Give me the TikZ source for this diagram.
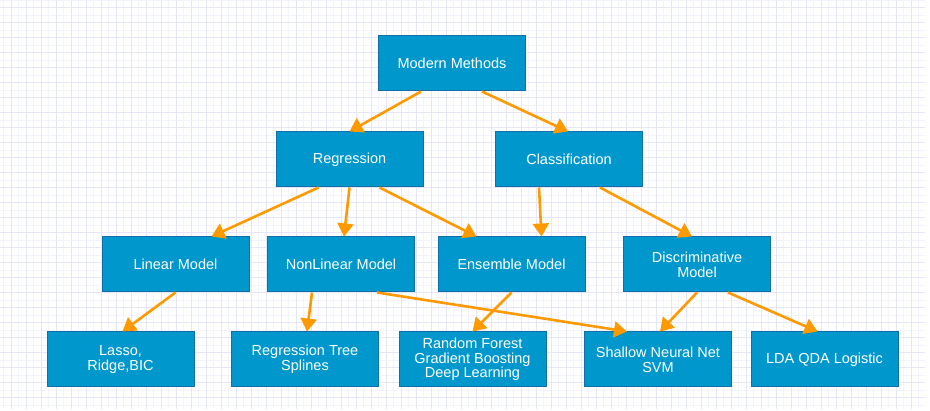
\documentclass[tikz,border=0pt]{standalone}
\usepackage{fontspec}
\setsansfont{Liberation Sans}
\usepackage{xcolor}
\usetikzlibrary{arrows.meta}
\definecolor{boxfill}{RGB}{0,152,204}
\definecolor{boxline}{RGB}{16,110,170}
\definecolor{linkorange}{RGB}{255,153,0}
\definecolor{gridminor}{RGB}{243,243,252}
\definecolor{gridmajor}{RGB}{230,230,249}

\begin{document}
\begin{tikzpicture}[x=1pt,y=-1pt,
  box/.style={draw=boxline,fill=boxfill,line width=1pt,minimum width=147pt,minimum height=55pt,inner sep=2pt,align=center,text=white,font=\sffamily\fontsize{14.5}{14.7}\selectfont},
  link/.style={draw=linkorange,line width=2.6pt,-{Triangle[length=13pt,width=16pt]}}]
\useasboundingbox (0,0) rectangle (930,411);
\fill[white] (0,0) rectangle (930,411);
\begin{scope}
\clip (0,0) rectangle (925,409);
\foreach \gx in {3.5,18.5,...,925} \draw[gridminor,line width=0.8pt] (\gx,0) -- (\gx,411);
\foreach \gy in {0,15,...,411} \draw[gridminor,line width=0.8pt] (0,\gy) -- (930,\gy);
\foreach \gx in {11,26,...,925} \draw[gridmajor,line width=0.9pt] (\gx,0) -- (\gx,411);
\foreach \gy in {7.5,22.5,...,411} \draw[gridmajor,line width=0.9pt] (0,\gy) -- (930,\gy);
\end{scope}

\node[box] (mm) at (452,63.5) {Modern Methods};
\node[box] (reg) at (349.5,159.5) {Regression};
\node[box] (cls) at (569,159.5) {Classification};
\node[box] (lin) at (175.5,264.5) {Linear Model};
\node[box] (nonlin) at (341,264.5) {NonLinear Model};
\node[box] (ens) at (511.5,264.5) {Ensemble Model};
\node[box] (disc) at (697,264.5) {Discriminative\\Model};
\node[box] (lasso) at (120.5,359.5) {Lasso,\\Ridge,BIC};
\node[box] (tree) at (305,359.5) {Regression Tree\\Splines};
\node[box] (rf) at (472.5,359.5) {Random Forest\\Gradient Boosting\\Deep Learning};
\node[box] (svm) at (658,359.5) {Shallow Neural Net\\SVM};
\node[box] (lda) at (824.5,359.5) {LDA QDA Logistic};

\draw[link] ([xshift=-31pt]mm.south) -- (reg.north);
\draw[link] ([xshift=30pt]mm.south) -- ([xshift=-1pt]cls.north);
\draw[link] ([xshift=-31pt]reg.south) -- ([xshift=36pt]lin.north);
\draw[link] (reg.south) -- ([xshift=3pt]nonlin.north);
\draw[link] ([xshift=30pt]reg.south) -- ([xshift=-35pt]ens.north);
\draw[link] ([xshift=-30pt]cls.south) -- ([xshift=30pt]ens.north);
\draw[link] ([xshift=31pt]cls.south) -- ([xshift=-5pt]disc.north);
\draw[link] (lin.south) -- ([xshift=2pt]lasso.north);
\draw[link] ([xshift=-29pt]nonlin.south) -- ([xshift=2pt]tree.north);
\draw[link] ([xshift=36pt]nonlin.south) -- ([xshift=-31pt]svm.north);
\draw[link] (ens.south) -- (rf.north);
\draw[link] (disc.south) -- ([xshift=2pt]svm.north);
\draw[link] ([xshift=31pt]disc.south) -- ([xshift=-7pt]lda.north);
\end{tikzpicture}
\end{document}
